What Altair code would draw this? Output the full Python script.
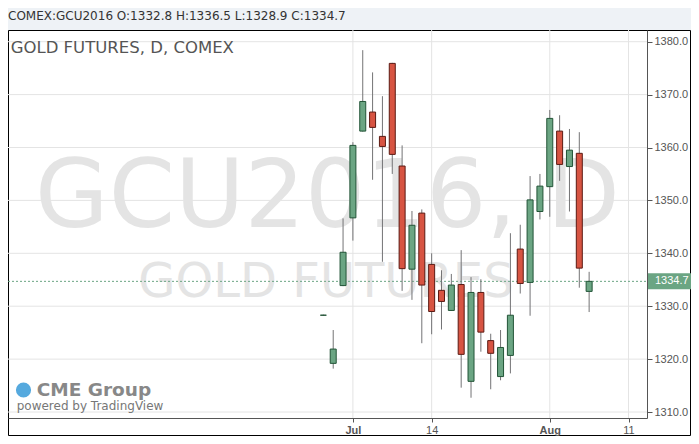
import altair as alt
import pandas as pd

# ---- data ----
IDX = list(range(28))
OPEN = [1328.3, 1319.2, 1333.9, 1346.7, 1363.1, 1366.7, 1362.1, 1375.9, 1356.5, 1337.0,
        1347.6, 1337.9, 1333.0, 1329.2, 1334.1, 1315.8, 1332.6, 1323.5, 1316.7, 1320.7,
        1340.8, 1334.5, 1347.9, 1352.6, 1363.1, 1356.4, 1358.9, 1332.8]
HIGH = [1328.4, 1325.5, 1346.6, 1361.0, 1378.4, 1374.2, 1369.7, 1376.0, 1360.4, 1348.0,
        1348.3, 1340.0, 1336.8, 1336.1, 1340.6, 1335.5, 1335.1, 1324.8, 1325.5, 1343.8,
        1345.4, 1354.6, 1355.0, 1367.1, 1366.1, 1363.5, 1362.9, 1336.5]
LOW = [1328.2, 1318.2, 1333.8, 1342.4, 1363.0, 1353.9, 1338.4, 1355.0, 1332.9, 1331.2,
       1323.0, 1324.7, 1325.6, 1329.1, 1314.6, 1312.7, 1321.4, 1314.3, 1316.0, 1317.3,
       1332.4, 1328.2, 1346.4, 1346.9, 1353.7, 1347.9, 1333.5, 1328.9]
CLOSE = [1328.3, 1321.9, 1340.2, 1360.4, 1368.7, 1363.8, 1360.2, 1358.7, 1337.1, 1345.3,
         1334.0, 1329.0, 1330.9, 1334.0, 1320.9, 1332.6, 1325.1, 1321.1, 1322.2, 1328.3,
         1334.3, 1350.1, 1352.7, 1365.5, 1356.8, 1359.5, 1337.2, 1334.7]

Y_TICKS = [1310, 1320, 1330, 1340, 1350, 1360, 1370, 1380]
X_TICKS = [3, 11, 23, 31]
X_LABELS = ["Jul", "14", "Aug", "11"]
BOLD_LABELS = ["Jul", "Aug"]

HEADER = "COMEX:GCU2016 O:1332.8 H:1336.5 L:1328.9 C:1334.7"
TITLE = "GOLD FUTURES, D, COMEX"
WATERMARK = "GCU2016, D"
WATERMARK2 = "GOLD FUTURES"
LOGO = "CME Group"
POWERED = "powered by TradingView"

# ---- layout ----
W, H = 639, 388
XDOM = [-31.53, 32.37]
YDOM = [1308.87, 1382.21]
UP_FILL, DN_FILL = "#6ba583", "#d75442"
UP_LINE, DN_LINE = "#225437", "#5b1a13"
GRID = "#e4e4e4"
AXIS_C = "#555555"

df = pd.DataFrame({"i": IDX, "o": OPEN, "h": HIGH, "l": LOW, "c": CLOSE})
df["dir"] = ["up" if c >= o else "down" for o, c in zip(OPEN, CLOSE)]

xs = alt.Scale(domain=XDOM, nice=False, zero=False)
ys = alt.Scale(domain=YDOM, nice=False, zero=False)

expr = "''"
for t, lab in reversed(list(zip(X_TICKS, X_LABELS))):
    expr = f"datum.value == {t} ? '{lab}' : ({expr})"
bold_test = " || ".join(f"datum.value == {t}" for t, lab in zip(X_TICKS, X_LABELS) if lab in BOLD_LABELS)

X_AX = alt.Axis(
    values=X_TICKS, labelExpr=expr, grid=False, zindex=1, tickSize=4,
    tickColor=AXIS_C, domainColor=AXIS_C, labelColor=AXIS_C, labelFont="Liberation Sans",
    labelFontSize=11, labelPadding=2, labelFlush=False, labelOverlap=False, title=None,
    labelFontWeight={"condition": {"test": bold_test, "value": "bold"}, "value": "normal"})
Y_AX = alt.Axis(
    orient="right", values=Y_TICKS, format=".1f", grid=False, zindex=1, tickSize=5,
    tickColor=AXIS_C, domainColor=AXIS_C, labelColor=AXIS_C, labelFont="Liberation Sans",
    labelFontSize=11, labelPadding=2, labelOverlap=False, title=None)


def X(f):
    return alt.X(f, scale=xs, axis=X_AX, title=None)


def Y(f):
    return alt.Y(f, scale=ys, axis=Y_AX, title=None)


one = pd.DataFrame({"k": [0]})

frame = alt.Chart(one).mark_rect(fill="white", stroke="black", strokeWidth=1).encode(
    x=alt.value(0.5), x2=alt.value(682.5), y=alt.value(0.5), y2=alt.value(405.5))

hgrid = alt.Chart(pd.DataFrame({"v": Y_TICKS})).mark_rule(color=GRID, strokeWidth=1).encode(
    y=Y("v:Q"), x=alt.value(0), x2=alt.value(W))
vgrid = alt.Chart(pd.DataFrame({"t": X_TICKS})).mark_rule(color=GRID, strokeWidth=1).encode(
    x=X("t:Q"), y=alt.value(0), y2=alt.value(H))


def txt(s, x, y, size, color, align="left", weight="normal", font="DejaVu Sans"):
    return alt.Chart(pd.DataFrame({"s": [s]})).mark_text(
        align=align, baseline="alphabetic", fontSize=size, color=color,
        fontWeight=weight, font=font).encode(
        x=alt.value(x), y=alt.value(y), text="s:N")


wm1 = txt(WATERMARK, 319.5, 197, 95, "#e4e4e4", align="center")
wm2 = txt(WATERMARK2, 318, 267, 48, "#e4e4e4", align="center")

last = pd.DataFrame({"p": [CLOSE[-1]], "s": [f"{CLOSE[-1]:.1f}"]})
pline = alt.Chart(last).mark_rule(color=UP_FILL, strokeDash=[2, 2], strokeWidth=1).encode(
    y=Y("p:Q"), x=alt.value(0), x2=alt.value(W))

wicks = alt.Chart(df).mark_rule(color="#737375", strokeWidth=1).encode(
    x=X("i:Q"), y=Y("l:Q"), y2="h:Q")

bodies = alt.Chart(df).mark_bar(size=6, strokeWidth=1).encode(
    x=X("i:Q"), y=Y("o:Q"), y2="c:Q",
    fill=alt.Fill("dir:N", scale=alt.Scale(domain=["up", "down"], range=[UP_FILL, DN_FILL]), legend=None),
    stroke=alt.Stroke("dir:N", scale=alt.Scale(domain=["up", "down"], range=[UP_LINE, DN_LINE]), legend=None),
)

tag = alt.Chart(last).mark_rect(color=UP_FILL, yOffset=-8, y2Offset=8).encode(
    y=Y("p:Q"), y2="p:Q", x=alt.value(W + 1), x2=alt.value(683))
tagtxt = alt.Chart(last).mark_text(align="left", baseline="middle", color="white",
                                   font="Liberation Sans", fontSize=11).encode(
    y=Y("p:Q"), x=alt.value(W + 8), text="s:N")

header = txt(HEADER, 0, -10, 12, "#333333")
title = txt(TITLE, 2.7, 23.3, 16.5, "#555555")
globe = alt.Chart(one).mark_circle(size=230, color="#55a9de", opacity=1).encode(
    x=alt.value(15.5), y=alt.value(360))
logo = txt(LOGO, 28.7, 366, 18.5, "#888888", weight="bold")
powered = txt(POWERED, 8.7, 380, 12, "#777777")

chart = alt.layer(
    frame, hgrid, vgrid, wm1, wm2, pline, wicks, bodies, tag, tagtxt,
    header, title, globe, logo, powered
).properties(
    width=W, height=H,
    autosize=alt.AutoSizeParams(type="none"),
    padding={"left": 0, "top": 22, "right": 44, "bottom": 18},
    background="#eef2f6",
).configure_view(stroke=None)

chart.save("out.html", embed_options={"renderer": "svg", "actions": False})
